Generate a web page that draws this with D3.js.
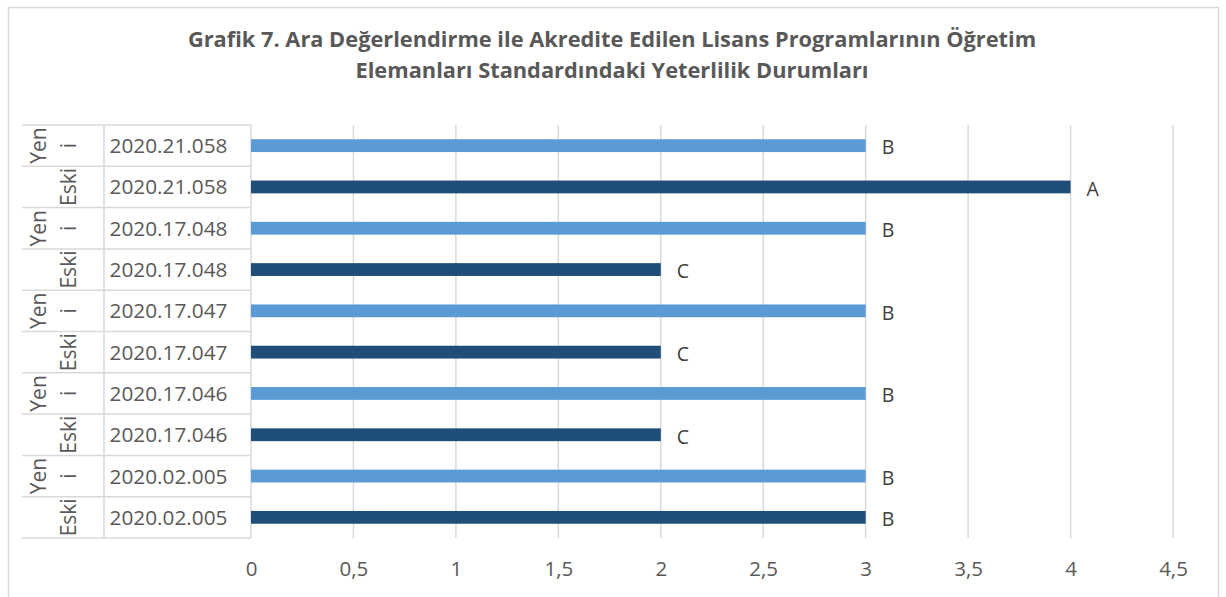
<!DOCTYPE html>
<html><head><meta charset="utf-8">
<script src="https://cdn.jsdelivr.net/npm/d3@7"></script>
<style>
html,body{margin:0;padding:0;background:#fff;}
svg text{font-family:"Open Sans","Noto Sans",sans-serif;}
</style></head>
<body><svg id="c" width="1226" height="597"></svg>
<script>
// Data, top to bottom as shown
const groups = ["Yeni","Eski","Yeni","Eski","Yeni","Eski","Yeni","Eski","Yeni","Eski"];
const programs = ["2020.21.058","2020.21.058","2020.17.048","2020.17.048","2020.17.047","2020.17.047","2020.17.046","2020.17.046","2020.02.005","2020.02.005"];
const values = [3,4,3,2,3,2,3,2,3,3];
const grades = ["B","A","B","C","B","C","B","C","B","B"];
const xTicks = [0,0.5,1,1.5,2,2.5,3,3.5,4,4.5];
const titleLines = ["Grafik 7. Ara Değerlendirme ile Akredite Edilen Lisans Programlarının Öğretim","Elemanları Standardındaki Yeterlilik Durumları"];

const svg = d3.select("#c");
const grid = "#d9d9d9", txt = "#595959";
const light = "#5b9bd5", dark = "#1f4e79";

// chart border
svg.append("rect").attr("x",8.5).attr("y",7.5).attr("width",1210).attr("height",600)
  .attr("fill","none").attr("stroke",grid).attr("stroke-width",1.5);

// title
svg.append("g").selectAll("text").data(titleLines).join("text")
  .attr("x",612).attr("y",(d,i)=>47+i*31).attr("text-anchor","middle")
  .attr("font-size",21.8).attr("font-weight",700).attr("fill",txt).text(d=>d);

const x = d3.scaleLinear().domain([0,4.5]).range([251,1173]);
const idx = d3.range(values.length);
const y = d3.scaleBand().domain(idx).range([125,538]).padding(0);
const bh = y.bandwidth()*0.31;

// gridlines
svg.append("g").selectAll("line").data(xTicks.slice(1)).join("line")
  .attr("x1",d=>x(d)).attr("x2",d=>x(d)).attr("y1",125).attr("y2",538)
  .attr("stroke",grid).attr("stroke-width",1.5);

// left axis table lines
const tbl = svg.append("g");
tbl.append("line").attr("x1",x(0)).attr("x2",x(0)).attr("y1",125).attr("y2",538).attr("stroke",grid).attr("stroke-width",1.5);
tbl.append("line").attr("x1",104).attr("x2",104).attr("y1",125).attr("y2",538).attr("stroke",grid).attr("stroke-width",1.5);
tbl.selectAll("line.h").data(d3.range(values.length+1)).join("line").attr("class","h")
  .attr("x1",22).attr("x2",x(0))
  .attr("y1",d=>d<values.length? y(d): y(values.length-1)+y.bandwidth())
  .attr("y2",d=>d<values.length? y(d): y(values.length-1)+y.bandwidth())
  .attr("stroke",grid).attr("stroke-width",1.5);

// bars
svg.append("g").selectAll("rect").data(idx).join("rect")
  .attr("x",x(0)).attr("y",i=>y(i)+y.bandwidth()/2-bh/2)
  .attr("width",i=>x(values[i])-x(0)).attr("height",bh)
  .attr("fill",i=>groups[i]==="Yeni"?light:dark);

// data labels
svg.append("g").selectAll("text").data(idx).join("text")
  .attr("x",i=>x(values[i])+16).attr("y",i=>y(i)+y.bandwidth()/2+2).attr("dy","0.35em")
  .attr("font-size",19.5).attr("fill","#404040").text(i=>grades[i]);

// category labels
svg.append("g").selectAll("text").data(idx).join("text")
  .attr("x",168.5).attr("y",i=>y(i)+y.bandwidth()/2).attr("dy","0.36em").attr("text-anchor","middle")
  .attr("font-size",20.8).attr("fill",txt).text(i=>programs[i]);

// group labels (rotated, "Yeni" wraps to "Yen" / "i")
const gl = svg.append("g");
idx.forEach(i=>{
  const cy = y(i)+y.bandwidth()/2;
  const lines = groups[i]==="Yeni" ? [["Yen",38],["i",68]] : [["Eski",68]];
  lines.forEach(([t,cx])=>{
    gl.append("text").attr("transform",`translate(${cx},${cy}) rotate(-90)`)
      .attr("text-anchor","middle").attr("dy","0.36em")
      .attr("font-size",21).attr("fill",txt).text(t);
  });
});

// x axis tick labels
const xa = svg.append("g").attr("transform","translate(0,538)")
  .call(d3.axisBottom(x).tickValues(xTicks).tickSize(0).tickPadding(0)
    .tickFormat(d=>String(d).replace(".",",")));
xa.select(".domain").remove();
xa.selectAll("text").attr("y",38).attr("dy",0).attr("font-size",20.5).attr("fill",txt)
  .attr("font-family","'Open Sans','Noto Sans',sans-serif");
</script></body></html>
